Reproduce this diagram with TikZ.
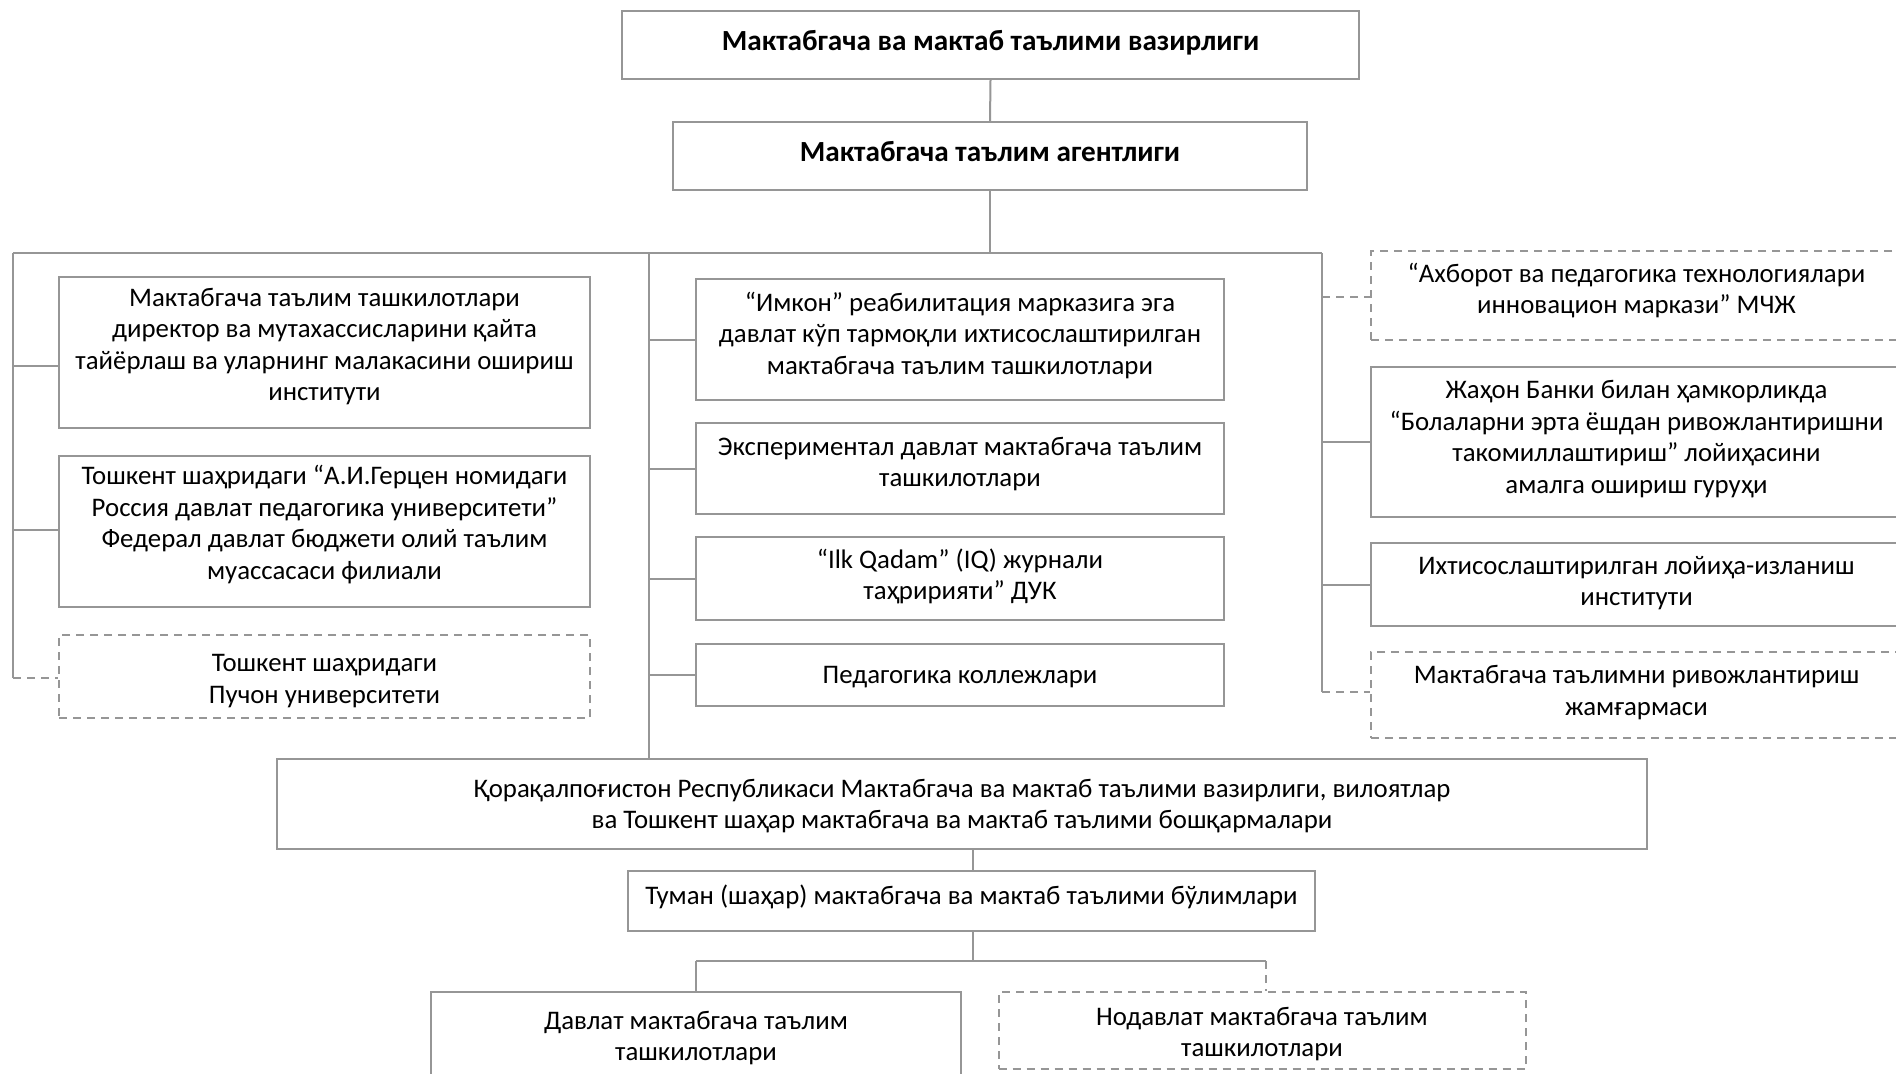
\documentclass[tikz,border=0pt]{standalone}
\usepackage{fontspec}
\setmainfont{Carlito}
\definecolor{lineg}{RGB}{150,150,150}
\newcommand\boxtext[2][0pt]{\raisebox{#1}[\height][\depth]{\begin{tabular}{@{}c@{}}#2\end{tabular}}}
\tikzset{
  box/.style={draw=lineg, line width=1pt, inner sep=0pt,
    font=\fontsize{13.4}{15.75}\selectfont},
  dbox/.style={box, dash pattern=on 4pt off 3pt},
  conn/.style={draw=lineg, line width=1pt},
  dconn/.style={conn, dash pattern=on 4pt off 3pt},
  ttl/.style={box, font=\fontsize{14.6}{17}\selectfont\bfseries}
}
\begin{document}
\begin{tikzpicture}[x=0.5pt,y=-0.5pt]
\useasboundingbox (0,0) rectangle (1896,1073);
\clip (0,0) rectangle (1896,1073);
\fill[white] (0,0) rectangle (1896,1073);
% top
\node[ttl, minimum width=368.5pt, minimum height=34pt] (min) at (990.5,45) {\boxtext[0.7pt]{Мактабгача ва мактаб таълими вазирлиги}};
\node[ttl, minimum width=317pt, minimum height=34pt] (agc) at (990,156) {\boxtext[0.7pt]{Мактабгача таълим агентлиги}};
% left column
\node[box, minimum width=265.5pt, minimum height=75.5pt] (l1) at (324.5,352.5) {\boxtext[2.7pt]{Мактабгача таълим ташкилотлари\\директор ва мутахассисларини қайта\\тайёрлаш ва уларнинг малакасини ошириш\\институти}};
\node[box, minimum width=265.5pt, minimum height=75.5pt] (l2) at (324.5,531.5) {\boxtext[3pt]{Тошкент шаҳридаги “А.И.Герцен номидаги\\Россия давлат педагогика университети”\\Федерал давлат бюджети олий таълим\\муассасаси филиали}};
\node[dbox, minimum width=265.5pt, minimum height=41.5pt] (l3) at (324.5,676.5) {\boxtext[-2.3pt]{Тошкент шаҳридаги\\Пучон университети}};
% middle column
\node[box, minimum width=264pt, minimum height=60.5pt] (m1) at (960,339.5) {\boxtext[1.5pt]{“Имкон” реабилитация марказига эга\\давлат кўп тармоқли ихтисослаштирилган\\мактабгача таълим ташкилотлари}};
\node[box, minimum width=264pt, minimum height=45.5pt] (m2) at (960,468.5) {\boxtext[2pt]{Экспериментал давлат мактабгача таълим\\ташкилотлари}};
\node[box, minimum width=264pt, minimum height=41.5pt] (m3) at (960,578.5) {\boxtext[0.5pt]{“Ilk Qadam” (IQ) журнали\\таҳририяти” ДУК}};
\node[box, minimum width=264pt, minimum height=31pt] (m4) at (960,675) {\boxtext[-0.9pt]{Педагогика коллежлари}};
% right column
\node[dbox, minimum width=265.5pt, minimum height=44.5pt] (r1) at (1636.5,295.5) {\boxtext[1.8pt]{“Ахборот ва педагогика технологиялари\\инновацион маркази” МЧЖ}};
\node[box, minimum width=265.5pt, minimum height=75pt] (r2) at (1636.5,442) {\boxtext[1.2pt]{Жаҳон Банки билан ҳамкорликда\\“Болаларни эрта ёшдан ривожлантиришни\\такомиллаштириш” лойиҳасини\\амалга ошириш гуруҳи}};
\node[box, minimum width=265.5pt, minimum height=41.5pt] (r3) at (1636.5,584.5) {\boxtext[0.5pt]{Ихтисослаштирилган лойиҳа-изланиш\\институти}};
\node[dbox, minimum width=265.5pt, minimum height=43pt] (r4) at (1636.5,695) {\boxtext[1pt]{Мактабгача таълимни ривожлантириш\\жамғармаси}};
% lower part
\node[box, minimum width=685pt, minimum height=45pt] (reg) at (962,804) {\boxtext[-1.3pt]{Қорақалпоғистон Республикаси Мактабгача ва мактаб таълими вазирлиги, вилоятлар\\ва Тошкент шаҳар мактабгача ва мактаб таълими бошқармалари}};
\node[box, minimum width=343.5pt, minimum height=30pt] (tum) at (971.5,901) {\boxtext[1.3pt]{Туман (шаҳар) мактабгача ва мактаб таълими бўлимлари}};
\node[box, minimum width=265pt, minimum height=44pt] (dav) at (696,1036) {\boxtext[-1.4pt]{Давлат мактабгача таълим\\ташкилотлари}};
\node[dbox, minimum width=263.5pt, minimum height=38.5pt] (nod) at (1262,1030.5) {\boxtext[-2pt]{Нодавлат мактабгача таълим\\ташкилотлари}};
% coordinates of the bus
\coordinate (busL) at (13,253);
\coordinate (busM) at (649,253);
\coordinate (busC) at (990,253);
\coordinate (busR) at (1322,253);
\coordinate (tL1) at (13,366);
\coordinate (tL2) at (13,530);
\coordinate (tL3) at (13,678);
\coordinate (tM1) at (649,339.5);
\coordinate (tM2) at (649,468.5);
\coordinate (tM3) at (649,578.5);
\coordinate (tM4) at (649,675);
\coordinate (tR1) at (1322,297);
\coordinate (tR2) at (1322,442);
\coordinate (tR3) at (1322,584.5);
\coordinate (tR4) at (1322,692);
\coordinate (spl) at (973,961);
\coordinate (splL) at (696,961);
\coordinate (splR) at (1266,961);
% connectors
\draw[conn] (min.south) -- (agc.north);
\draw[conn] (agc.south) -- (busC);
\draw[conn] (busL) -- (busR);
\draw[conn] (busL) -- (tL3);
\draw[conn] (busM) -- (busM |- reg.north);
\draw[conn] (busR) -- (tR4);
\draw[conn] (tL1) -- (tL1 -| l1.west);
\draw[conn] (tL2) -- (tL2 -| l2.west);
\draw[dconn] (tL3) -- (tL3 -| l3.west);
\draw[conn] (tM1) -- (m1.west);
\draw[conn] (tM2) -- (m2.west);
\draw[conn] (tM3) -- (m3.west);
\draw[conn] (tM4) -- (m4.west);
\draw[dconn] (tR1) -- (tR1 -| r1.west);
\draw[conn] (tR2) -- (r2.west);
\draw[conn] (tR3) -- (r3.west);
\draw[dconn] (tR4) -- (tR4 -| r4.west);
\draw[conn] (reg.south -| spl) -- (tum.north -| spl);
\draw[conn] (tum.south -| spl) -- (spl);
\draw[conn] (splL) -- (splR);
\draw[conn] (splL) -- (dav.north);
\draw[dconn] (splR) -- (splR |- nod.north);
\end{tikzpicture}
\end{document}
